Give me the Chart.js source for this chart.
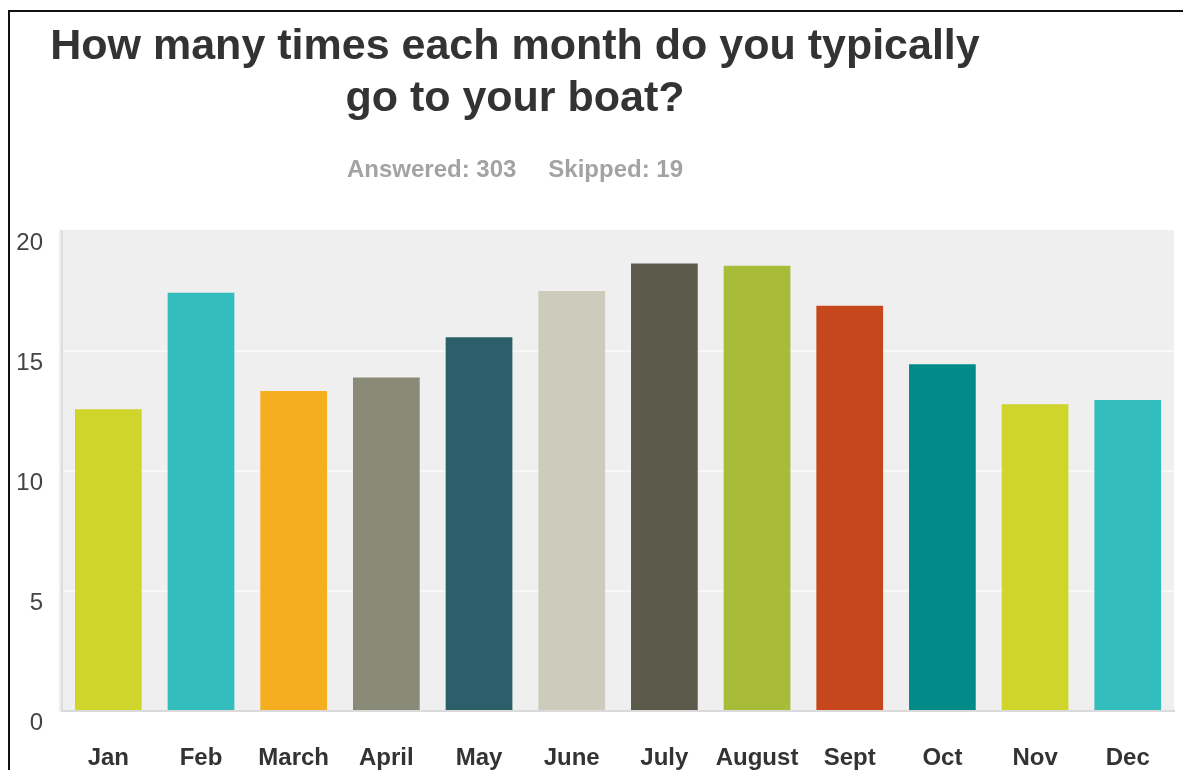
<!DOCTYPE html>
<html>
<head>
<meta charset="utf-8">
<title>How many times each month do you typically go to your boat?</title>
<script src="https://cdn.jsdelivr.net/npm/chart.js@4"></script>
<style>
  html, body { margin: 0; padding: 0; background: #fff; overflow: hidden; }
  #page { position: relative; width: 1183px; height: 770px; }
  #marco {
    position: absolute; left: 8px; top: 10px; right: -10px; bottom: -10px;
    border-left: 2px solid #111; border-top: 2px solid #111;
  }
  #titulo {
    position: absolute; left: 0; top: 18px; width: 1030px;
    text-align: center; font-family: "Liberation Sans", Arial, sans-serif;
    font-weight: bold; font-size: 43px; line-height: 52px; color: #333;
  }
  #resumen {
    position: absolute; left: 0; top: 155px; width: 1030px;
    text-align: center; font-family: "Liberation Sans", Arial, sans-serif;
    font-weight: bold; font-size: 24px; line-height: 28px; color: #a3a3a3;
  }
  #resumen span:first-child { margin-right: 32px; }
  #grafica { position: absolute; left: 0; top: 0; width: 1183px; height: 770px; }
</style>
</head>
<body>
<div id="page">
  <div id="grafica"><canvas id="miCanvas"></canvas></div>
  <div id="marco"></div>
  <div id="titulo">How many times each month do you typically<br>go to your boat?</div>
  <div id="resumen"><span>Answered: 303</span><span>Skipped: 19</span></div>
</div>
<script>
const months = ["Jan", "Feb", "March", "April", "May", "June", "July", "August", "Sept", "Oct", "Nov", "Dec"];
const visits = [12.57, 17.43, 13.33, 13.9, 15.57, 17.5, 18.65, 18.55, 16.89, 14.45, 12.78, 12.96];
const barColors = ["#cfd52a", "#33bdbd", "#f5ae20", "#898a78", "#2d5f6b", "#cdccbc",
                   "#5c5b4b", "#a9bc3a", "#c7471c", "#008b89", "#cfd52a", "#33bdbd"];
const yTicks = [0, 5, 10, 15, 20];

// grey panel behind the bars
const fondoGris = {
  id: "fondoGris",
  beforeDraw(chart) {
    const { ctx, chartArea: a } = chart;
    ctx.save();
    ctx.fillStyle = "#efefef";
    ctx.fillRect(a.left - 3, a.top - 1, a.right - a.left + 3, a.bottom - a.top + 2);
    ctx.restore();
  }
};

const ctx = document.getElementById("miCanvas").getContext("2d");
new Chart(ctx, {
  type: "bar",
  data: {
    labels: months,
    datasets: [{
      label: "Times per month",
      data: visits,
      backgroundColor: barColors,
      barPercentage: 0.72,
      categoryPercentage: 1.0
    }]
  },
  options: {
    responsive: true,
    maintainAspectRatio: false,
    animation: false,
    layout: { padding: { top: 231, left: 16, right: 6, bottom: 0 } },
    plugins: { legend: { display: false }, tooltip: { enabled: false } },
    scales: {
      x: {
        afterFit(scale) { scale.height = 59; },
        grid: { display: false, drawTicks: false },
        border: { display: true, color: "#dadada", width: 2 },
        ticks: {
          padding: 33,
          color: "#333",
          font: { family: "Liberation Sans", size: 24, weight: "bold" },
          maxRotation: 0,
          autoSkip: false
        }
      },
      y: {
        min: yTicks[0],
        max: yTicks[yTicks.length - 1],
        afterBuildTicks(scale) { scale.ticks = yTicks.map(v => ({ value: v })); },
        afterFit(scale) { scale.width = 46; },
        grid: {
          drawTicks: false,
          lineWidth: 2,
          color: c => (c.tick.value === 0 || c.tick.value === 20) ? "rgba(0,0,0,0)" : "#f8f8f8"
        },
        border: { display: true, color: "#dcdcdc", width: 2 },
        ticks: {
          padding: 19,
          labelOffset: 12,
          color: "#444",
          font: { family: "Liberation Sans", size: 24 }
        }
      }
    }
  },
  plugins: [fondoGris]
});
</script>
</body>
</html>
